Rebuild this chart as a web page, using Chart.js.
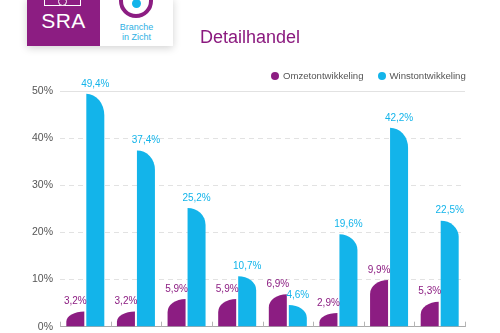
<!DOCTYPE html>
<html>
<head>
<meta charset="utf-8">
<script src="https://cdn.jsdelivr.net/npm/chart.js@4/dist/chart.umd.min.js"></script>
<style>
    html, body { margin: 0; padding: 0; background: #fff; }
    body { width: 500px; height: 333px; position: relative; overflow: hidden; font-family: "Liberation Sans", Arial, sans-serif; }
    #detailChart { position: absolute; left: 0; top: 0; }
    .logo { position: absolute; left: 27px; top: -2px; width: 146px; height: 48px; box-shadow: 0 2px 8px rgba(0,0,0,0.18); z-index: 2; }
    .logo .sra { position: absolute; left: 0; top: 0; width: 73px; height: 48px; background: #8c1d82; color: #fff; }
    .logo .sra span { position: absolute; left: 0; width: 73px; top: 11px; text-align: center; font-size: 21px; letter-spacing: 0.5px; }
    .logo .icon { position: absolute; left: 17px; top: 0; width: 37px; height: 8px; border: 1.5px solid #fff; border-top: none; box-sizing: border-box; }
    .logo .icon i { position: absolute; left: 13px; top: -1px; width: 7px; height: 7px; border: 1.5px solid #fff; border-radius: 50%; background: #8c1d82; }
    .logo .biz { position: absolute; left: 73px; top: 0; width: 73px; height: 48px; background: #fff; overflow: hidden; }
    .logo .ring { position: absolute; left: 19px; top: -14px; width: 26px; height: 26px; border: 4px solid #8c1d82; border-radius: 50%; }
    .logo .dot { position: absolute; left: 9px; top: 11px; width: 9px; height: 9px; border-radius: 50%; background: #13b4ea; }
    .logo .txt { position: absolute; left: 0; width: 73px; top: 24px; text-align: center; font-size: 9px; line-height: 10px; color: #2fb0e3; }
    #title { position: absolute; left: 0; width: 500px; top: 27px; text-align: center; font-size: 18px; color: #8b1a7f; z-index: 2; }
    #legend { position: absolute; top: 70px; left: 271px; font-size: 9.6px; color: #555; white-space: nowrap; z-index: 2; }
    #legend span { display: inline-block; margin-right: 14px; }
    #legend b { display: inline-block; width: 8px; height: 8px; border-radius: 50%; margin-right: 4px; vertical-align: -1px; }
</style>
</head>
<body>
<canvas id="detailChart" width="500" height="333"></canvas>
<div class="logo">
    <div class="sra"><div class="icon"><i></i></div><span>SRA</span></div>
    <div class="biz"><div class="ring"><div class="dot"></div></div><div class="txt">Branche<br>in Zicht</div></div>
</div>
<div id="title">Detailhandel</div>
<div id="legend"></div>
<script>
const categories = ['', '', '', '', '', '', '', ''];
const seriesNames = ['Omzetontwikkeling', 'Winstontwikkeling'];
const omzet = [3.2, 3.2, 5.9, 5.9, 6.9, 2.9, 9.9, 5.3];
const winst = [49.4, 37.4, 25.2, 10.7, 4.6, 19.6, 42.2, 22.5];
const yTicks = [0, 10, 20, 30, 40, 50];

const purple = '#8c1d82';
const cyan = '#13b4ea';

document.addEventListener('DOMContentLoaded', function () {
    const legend = document.getElementById('legend');
    legend.innerHTML = seriesNames.map((name, i) =>
        `<span><b style="background:${i === 0 ? purple : cyan}"></b>${name}</span>`).join('');

    // bars with one big rounded top corner (purple: left, blue: right)
    const roundBars = {
        id: 'roundBars',
        beforeDatasetDraw(chart, args) {
            const ctx = chart.ctx;
            const meta = args.meta;
            ctx.save();
            ctx.fillStyle = meta.index === 0 ? purple : cyan;
            meta.data.forEach(bar => {
                const w = bar.width, left = bar.x - w / 2, right = bar.x + w / 2;
                const top = bar.y, bottom = bar.base;
                const h = bottom - top;
                const rx = w, ry = Math.min(h * 0.7, 12 + h / 25);
                ctx.beginPath();
                if (meta.index === 0) {
                    ctx.moveTo(right, bottom);
                    ctx.lineTo(right, top);
                    ctx.ellipse(right, top + ry, rx, ry, 0, -Math.PI / 2, Math.PI, true);
                    ctx.lineTo(left, bottom);
                } else {
                    ctx.moveTo(left, bottom);
                    ctx.lineTo(left, top);
                    ctx.ellipse(left, top + ry, rx, ry, 0, -Math.PI / 2, 0, false);
                    ctx.lineTo(right, bottom);
                }
                ctx.closePath();
                ctx.fill();
            });
            ctx.restore();
            return false;
        },
        afterDatasetsDraw(chart) {
            const ctx = chart.ctx;
            ctx.save();
            ctx.font = '10px "Liberation Sans", Arial, sans-serif';
            ctx.textAlign = 'center';
            ctx.textBaseline = 'bottom';
            chart.data.datasets.forEach((ds, di) => {
                ctx.fillStyle = di === 0 ? purple : cyan;
                chart.getDatasetMeta(di).data.forEach((bar, i) => {
                    const label = ds.data[i].toFixed(1).replace('.', ',') + '%';
                    ctx.fillText(label, bar.x, bar.y - 5);
                });
            });
            // small category ticks standing on the axis
            const xs = chart.scales.x;
            const step = xs.width / categories.length;
            ctx.strokeStyle = '#b5b5b5';
            ctx.lineWidth = 1;
            for (let i = 0; i <= categories.length; i++) {
                const px = Math.round(xs.left + i * step) + 0.5;
                ctx.beginPath();
                ctx.moveTo(px, xs.top - 5);
                ctx.lineTo(px, xs.top);
                ctx.stroke();
            }
            ctx.restore();
        }
    };

    const ctx = document.getElementById('detailChart').getContext('2d');
    window.myChart = new Chart(ctx, {
        type: 'bar',
        data: {
            labels: categories,
            datasets: [{
                label: seriesNames[0],
                backgroundColor: purple,
                data: omzet
            }, {
                label: seriesNames[1],
                backgroundColor: cyan,
                data: winst
            }]
        },
        options: {
            responsive: false,
            animation: false,
            devicePixelRatio: 1,
            categoryPercentage: 0.79,
            barPercentage: 0.9,
            layout: { padding: { top: 91, right: 35, bottom: 6, left: 0 } },
            plugins: {
                legend: { display: false },
                title: { display: false },
                tooltip: { enabled: false }
            },
            scales: {
                x: {
                    afterFit: scale => { scale.height = 0; },
                    ticks: { display: false },
                    grid: { display: false, drawTicks: false },
                    border: { display: true, color: '#aaa', width: 1 }
                },
                y: {
                    min: 0,
                    max: 50,
                    afterBuildTicks: scale => { scale.ticks = yTicks.map(v => ({ value: v })); },
                    afterFit: scale => { scale.width = 60; },
                    ticks: {
                        padding: 0,
                        color: '#555',
                        font: { family: '"Liberation Sans", Arial, sans-serif', size: 10.5 },
                        callback: v => v + '%'
                    },
                    grid: {
                        drawTicks: true,
                        tickLength: 7,
                        tickColor: 'rgba(0,0,0,0)',
                        color: c => c.tick.value === 0 ? '#aaa' : '#e2e2e2',
                        lineWidth: 1
                    },
                    border: {
                        display: false,
                        dash: c => (c.tick && (c.tick.value === 0 || c.tick.value === 50)) ? [] : [5, 4]
                    }
                }
            }
        },
        plugins: [roundBars]
    });
});
</script>
</body>
</html>
